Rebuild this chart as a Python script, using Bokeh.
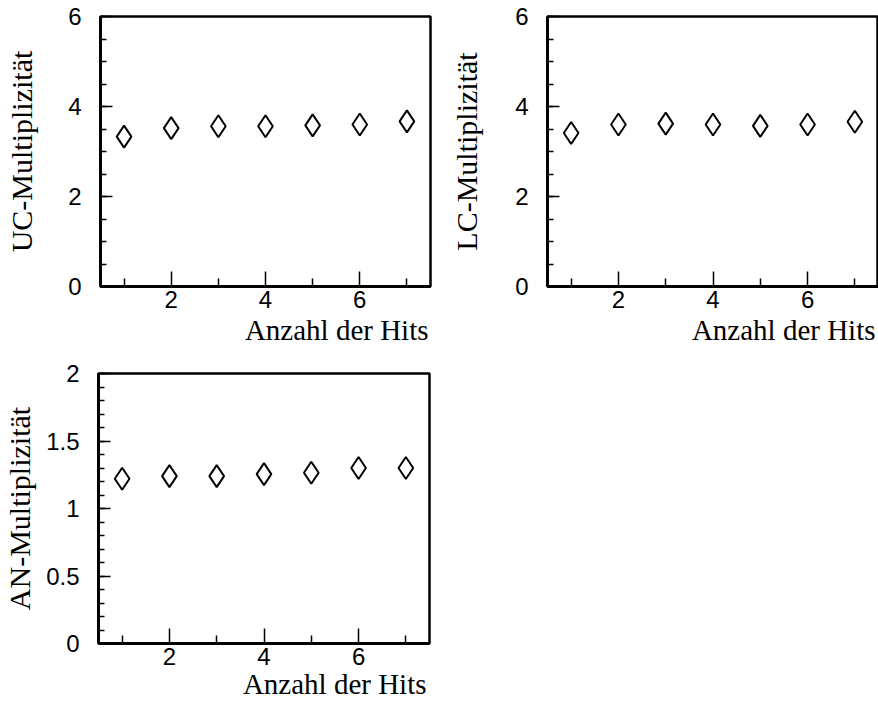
from bokeh.plotting import figure
from bokeh.layouts import column, row
from bokeh.models import Range1d, FixedTicker, CustomJSTickFormatter, Title
from bokeh.embed import file_html
from bokeh.resources import INLINE

# Mean multiplicity versus number of hits
hits = [1, 2, 3, 4, 5, 6, 7]
uc_mult = [3.33, 3.52, 3.56, 3.56, 3.58, 3.60, 3.67]
lc_mult = [3.41, 3.60, 3.62, 3.60, 3.57, 3.60, 3.66]
an_mult = [1.22, 1.24, 1.24, 1.255, 1.265, 1.30, 1.30]

x_major = [2, 4, 6]
x_minor = [1, 3, 5, 7]
uc_lc_major = [0, 2, 4, 6]
uc_lc_minor = [0.5 * i for i in range(13)]
an_major = [0, 0.5, 1, 1.5, 2]
an_minor = [0.1 * i for i in range(21)]

x_title = "Anzahl der Hits"
TICK_FONT = "Liberation Sans"
TITLE_FONT = "Liberation Serif"


def make_panel(yvals, ylabel, ymax, ymajor, yminor, left, top, fw, fh, right, bottom,
               ytitle_standoff, xtitle_offset, xtitle_standoff):
    p = figure(frame_width=fw, frame_height=fh,
               min_border_left=left, min_border_top=top,
               min_border_right=right, min_border_bottom=bottom,
               x_range=Range1d(0.5, 7.5), y_range=Range1d(0, ymax),
               output_backend="svg", toolbar_location=None)
    p.grid.visible = False
    p.background_fill_color = "white"
    p.border_fill_color = "white"
    p.outline_line_color = "black"
    p.outline_line_width = 2.5

    xa = p.xaxis[0]
    xa.ticker = FixedTicker(ticks=x_major, minor_ticks=x_minor)
    ya = p.yaxis[0]
    ya.ticker = FixedTicker(ticks=ymajor, minor_ticks=yminor)
    ya.formatter = CustomJSTickFormatter(code="return String(Math.round(tick * 10) / 10);")

    for ax, maj, mnr in ((xa, 15, 8), (ya, 12, 6)):
        ax.axis_line_color = "black"
        ax.axis_line_width = 3
        ax.major_tick_in = maj
        ax.major_tick_out = 0
        ax.minor_tick_in = mnr
        ax.minor_tick_out = 0
        ax.major_tick_line_color = "black"
        ax.minor_tick_line_color = "black"
        ax.major_tick_line_width = 1.5
        ax.minor_tick_line_width = 1.5
        ax.major_label_text_font = TICK_FONT
        ax.major_label_text_font_size = "24px"
        ax.major_label_text_color = "black"
    xa.major_label_standoff = 4
    ya.major_label_standoff = 19

    # y title as the axis label
    ya.axis_label = ylabel
    ya.axis_label_text_font = TITLE_FONT
    ya.axis_label_text_font_style = "normal"
    ya.axis_label_text_font_size = "30px"
    ya.axis_label_text_color = "black"
    ya.axis_label_standoff = ytitle_standoff

    # x title, right-aligned under the frame
    p.add_layout(Title(text=x_title, align="right", vertical_align="top",
                       offset=xtitle_offset, standoff=xtitle_standoff,
                       text_font=TITLE_FONT, text_font_size="29px",
                       text_font_style="normal", text_color="black"), "below")

    p.scatter(hits, yvals, marker="diamond", size=22, fill_color="white",
              line_color="black", line_width=2)
    return p


p1 = make_panel(uc_mult, "UC-Multiplizität", 6, uc_lc_major, uc_lc_minor,
                left=100, top=16, fw=330, fh=270, right=10, bottom=74,
                ytitle_standoff=27, xtitle_offset=2, xtitle_standoff=7)
p2 = make_panel(lc_mult, "LC-Multiplizität", 6, uc_lc_major, uc_lc_minor,
                left=107, top=16, fw=331, fh=270, right=0, bottom=74,
                ytitle_standoff=29, xtitle_offset=3, xtitle_standoff=7)
p3 = make_panel(an_mult, "AN-Multiplizität", 2, an_major, an_minor,
                left=97, top=13, fw=331, fh=270, right=12, bottom=68,
                ytitle_standoff=7, xtitle_offset=3, xtitle_standoff=0)

layout = column(row(p1, p2), p3)
open("out.html", "w").write(file_html(layout, INLINE))
